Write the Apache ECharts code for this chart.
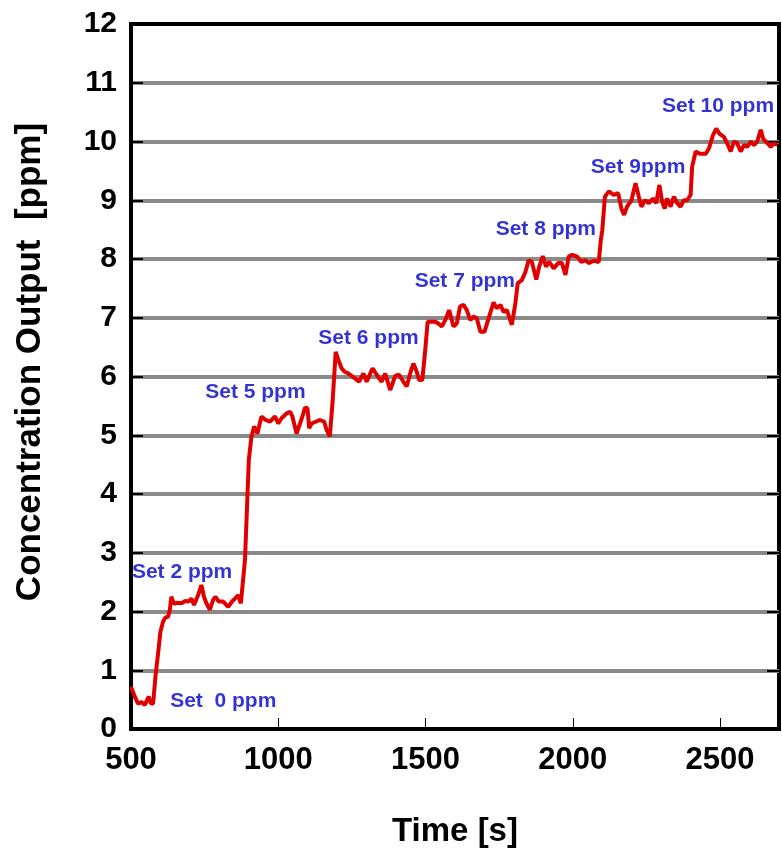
<!DOCTYPE html>
<html>
<head>
<meta charset="utf-8">
<script src="https://cdn.jsdelivr.net/npm/echarts@6/dist/echarts.min.js"></script>
<style>html,body{margin:0;padding:0;background:#fff}#c{width:782px;height:853px}</style>
</head>
<body>
<div id="c"></div>
<script>
var timeS = [500,513,524,535,547,560,567,575,583,592,600,609,617,626,632,637,646,657,671,684,696,705,714,728,739,748,756,768,779,787,798,813,830,843,853,864,873,878,887,
900,909,918,929,943,957,972,989,1000,1011,1028,1040,1048,1062,1074,1082,1091,1099,1105,1113,1127,1142,1156,1164,1175,1184,1195,
1204,1215,1226,1238,1249,1260,1274,1289,1300,1320,1334,1351,1363,1380,1397,1410,1425,1436,1451,1459,1470,1478,1489,1499,1507,
1516,1533,1544,1555,1567,1580,1595,1606,1617,1629,1640,1652,1663,1674,1686,1700,1714,1731,1742,1754,1765,1776,1793,1805,1813,
1827,1839,1850,1861,1876,1886,1898,1909,1920,1935,1950,1963,1975,1986,1998,2015,2029,2043,2054,2071,2088,2095,2100,2109,
2122,2139,2154,2165,2174,2184,2199,2213,2224,2233,2245,2258,2272,2283,2294,2303,2312,2320,2332,2343,2354,2366,2377,2388,2400,2405,
2417,2431,2451,2462,2476,2487,2498,2513,2524,2536,2547,2558,2570,2581,2592,2604,2615,2626,2638,2646,2661,2672,2683,2694];
var concPpm = [0.72,0.55,0.43,0.46,0.41,0.55,0.44,0.43,0.89,1.29,1.66,1.83,1.90,1.91,2.03,2.25,2.13,2.15,2.14,2.18,2.17,2.22,2.11,2.28,2.45,2.25,2.14,2.03,2.20,2.25,2.17,2.17,2.08,2.17,2.22,2.28,2.14,2.14,2.88,
4.58,4.98,5.15,5.03,5.32,5.26,5.23,5.32,5.20,5.29,5.37,5.40,5.32,5.03,5.20,5.32,5.47,5.46,5.12,5.20,5.23,5.26,5.23,5.09,4.98,5.54,6.42,
6.28,6.14,6.08,6.05,6.01,5.97,5.91,6.05,5.91,6.14,6.03,5.91,6.05,5.77,6.01,6.03,5.91,5.83,6.11,6.22,6.08,5.94,5.94,6.45,6.93,
6.93,6.93,6.90,6.85,6.96,7.13,6.85,6.90,7.19,7.22,7.13,6.96,7.02,6.99,6.76,6.76,6.99,7.26,7.16,7.22,7.10,7.13,6.88,7.25,7.59,
7.64,7.78,7.98,7.95,7.65,7.87,8.05,7.87,7.95,7.84,7.93,7.93,7.73,8.04,8.07,8.04,7.95,7.98,7.93,7.97,7.95,8.32,8.49,9.06,
9.15,9.09,9.12,8.86,8.75,8.89,9.00,9.29,9.06,8.89,9.00,8.95,9.03,8.95,9.26,8.98,8.86,9.03,8.89,9.06,8.95,8.89,9.00,9.00,9.09,9.57,
9.83,9.79,9.79,9.88,10.11,10.22,10.13,10.08,9.97,9.83,10.00,9.97,9.83,9.94,9.91,10.00,9.94,10.00,10.20,10.05,9.97,9.91,9.97,9.94];

var noteText = ['Set  0 ppm','Set 2 ppm','Set 5 ppm','Set 6 ppm','Set 7 ppm','Set 8 ppm','Set 9ppm','Set 10 ppm'];
var noteTime = [633,503,752,1136,1463,1738,2061,2303];
var noteConc = [0.48,2.67,5.74,6.66,7.63,8.51,9.57,10.60];

var xTicks = [500,1000,1500,2000,2500];
var yTitle = 'Concentration Output  [ppm]';
var xTitle = 'Time [s]';

var lineData = timeS.map(function(t,i){return [t, concPpm[i]];});
var noteData = noteText.map(function(s,i){return {name:s, value:[noteTime[i], noteConc[i]]};});

var FONT = 'Liberation Sans, Arial, sans-serif';
var chart = echarts.init(document.getElementById('c'), null, {renderer:'canvas'});
chart.setOption({
  animation:false,
  backgroundColor:'#fff',
  grid:{left:131,right:2,top:24,bottom:124,show:true,borderColor:'#000',borderWidth:4,backgroundColor:'transparent'},
  graphic:[{
    type:'text',x:30,y:362,rotation:Math.PI/2,
    style:{text:yTitle,fontFamily:FONT,fontWeight:'bold',fontSize:35,fill:'#000',align:'center',verticalAlign:'middle'}
  }],
  xAxis:{
    type:'value',min:500,max:2700,interval:500,
    name:xTitle,nameLocation:'middle',nameGap:86,
    nameTextStyle:{fontFamily:FONT,fontWeight:'bold',fontSize:33,color:'#000'},
    axisLine:{show:true,lineStyle:{color:'#000',width:4}},
    axisTick:{show:true,inside:true,length:11,lineStyle:{color:'#000',width:1}},
    axisLabel:{margin:16,fontFamily:FONT,fontWeight:'bold',fontSize:31,color:'#000',
      formatter:function(v){return xTicks.indexOf(v)>=0?String(v):'';}},
    splitLine:{show:false}
  },
  yAxis:[{
    type:'value',min:0,max:12,interval:1,
    axisLine:{show:true,lineStyle:{color:'#000',width:4}},
    axisTick:{show:true,inside:true,length:12,lineStyle:{color:'#000',width:2}},
    axisLabel:{margin:14,fontFamily:FONT,fontWeight:'bold',fontSize:30,color:'#000'},
    splitLine:{show:true,showMinLine:false,showMaxLine:false,lineStyle:{color:'#8a8a8a',width:4,type:'solid'}}
  },{
    type:'value',min:0,max:12,interval:1,position:'right',
    axisLine:{show:false},
    axisTick:{show:true,inside:true,length:12,lineStyle:{color:'#000',width:2}},
    axisLabel:{show:false},splitLine:{show:false}
  }],
  series:[{
    type:'line',data:lineData,showSymbol:false,symbol:'none',
    lineStyle:{color:'#e00000',width:4},z:3
  },{
    type:'scatter',data:noteData,symbolSize:0,z:4,
    label:{show:true,formatter:'{b}',position:'inside',align:'left',verticalAlign:'middle',
      fontFamily:FONT,fontWeight:'bold',fontSize:21,color:'#0000c8'}
  }]
});
</script>
</body>
</html>
